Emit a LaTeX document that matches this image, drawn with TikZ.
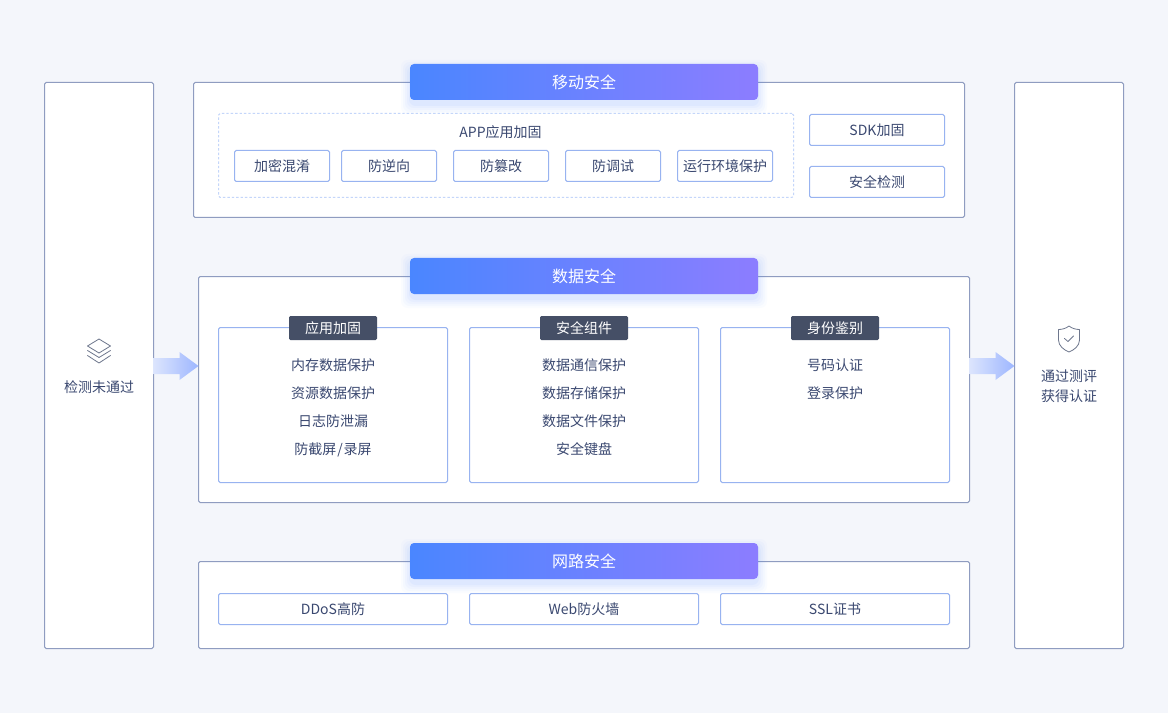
\documentclass[tikz,border=0pt]{standalone}
\usepackage{fontspec}
\setmainfont{Noto Sans CJK SC}[Scale=1]
\usetikzlibrary{calc}
\definecolor{bgc}{HTML}{F4F6FB}
\definecolor{outerc}{HTML}{8F9CC0}
\definecolor{innerc}{HTML}{98B3F0}
\definecolor{dashc}{HTML}{C4D6FA}
\definecolor{txtc}{HTML}{3A4870}
\definecolor{tagc}{HTML}{454F66}
\definecolor{gradl}{HTML}{4A86FF}
\definecolor{gradr}{HTML}{8C7DFF}
\definecolor{arrl}{HTML}{DCE5FD}
\definecolor{arrr}{HTML}{9DB6FF}
\definecolor{iconc}{HTML}{6E778D}
\tikzset{
  x=0.75pt,y=-0.75pt,
  every node/.style={inner sep=0pt,outer sep=0pt,font=\fontsize{10.5pt}{15pt}\selectfont,text=txtc,align=center},
  outerbox/.style={draw=outerc,line width=0.75pt,fill=white,rounded corners=1.2pt},
  innerbox/.style={draw=innerc,line width=0.75pt,fill=white,rounded corners=1.2pt},
  dashbox/.style={draw=dashc,line width=0.75pt,dash pattern=on 1.8pt off 1.5pt,rounded corners=1.2pt},
  titlebox/.style={rounded corners=3pt,left color=gradl,right color=gradr,text=white,font=\fontsize{12pt}{15pt}\selectfont},
  tagbox/.style={fill=tagc,rounded corners=1pt,text=white},
  plain/.style={},
  iconline/.style={draw=iconc,line width=0.6pt,line join=round,line cap=round},
}
\newcommand{\bx}[7][]{\node[#6,minimum width={(#4-#2)*0.75pt},minimum height={(#5-#3)*0.75pt},#1] (#7) at ({(#2+#4)/2},{(#3+#5)/2})}
\newcommand{\titlebar}[4]{%
  \foreach \k/\o in {9/0.025,7/0.03,5/0.035,3/0.04,1/0.05}{
    \fill[gradl,opacity=\o,rounded corners=5pt] ({410-\k},{#2-\k+5}) rectangle ({758+\k},{#3+\k+5});
  }
  \bx{410}{#2}{758}{#3}{titlebox}{#1}{#4};}
\newcommand{\bigarrow}[2]{%
  \shade[left color=arrl,right color=arrr]
    ($(#1)+(0,-8)$) -- ($(#2)+(-19,-8)$) -- ($(#2)+(-19,-14)$) -- (#2) -- ($(#2)+(-19,14)$) -- ($(#2)+(-19,8)$) -- ($(#1)+(0,8)$) -- cycle;}
\begin{document}
\begin{tikzpicture}
\useasboundingbox (0,0) rectangle (1168,713);
\fill[bgc] (0,0) rectangle (1168,713);

% side columns
\bx{44.5}{82.5}{153.5}{648.5}{outerbox}{leftcol}{};
\bx{1014.5}{82.5}{1123.5}{648.5}{outerbox}{rightcol}{};
\node (lefttxt) at (99,387) {检测未通过};
\node (righttxt) at (1069,386.5) [text width=70pt] {通过测评\\获得认证};

% stack icon
\draw[iconline] (99,339) -- (110.5,346) -- (99,353) -- (87.5,346) -- cycle;
\draw[iconline] (87.5,350.5) -- (99,357.5) -- (110.5,350.5);
\draw[iconline] (87.5,355.5) -- (99,363) -- (110.5,355.5);
% shield icon
\draw[iconline] (1069,326) .. controls (1072,328.5) and (1076,329.5) .. (1079.5,329.5)
  -- (1079.5,340) .. controls (1079.5,346) and (1074,350) .. (1069,352)
  .. controls (1064,350) and (1058.5,346) .. (1058.5,340) -- (1058.5,329.5)
  .. controls (1062,329.5) and (1066,328.5) .. (1069,326) -- cycle;
\draw[iconline] (1064.5,338.5) -- (1068,341.5) -- (1073.5,336);

% mobile
\bx{193.5}{82.5}{964.5}{217.5}{outerbox}{mobile}{};
\titlebar{mobiletitle}{64}{100}{移动安全}
\bx{218.5}{113.5}{793.5}{197.5}{dashbox}{appgroup}{};
\node (applabel) at (500.5,132.5) {APP应用加固};
\bx{234.5}{150.5}{329.5}{181.5}{innerbox}{m1}{加密混淆};
\bx{341.5}{150.5}{436.5}{181.5}{innerbox}{m2}{防逆向};
\bx{453.5}{150.5}{548.5}{181.5}{innerbox}{m3}{防篡改};
\bx{565.5}{150.5}{660.5}{181.5}{innerbox}{m4}{防调试};
\bx{677.5}{150.5}{772.5}{181.5}{innerbox}{m5}{运行环境保护};
\bx{809.5}{114.5}{944.5}{145.5}{innerbox}{sdk}{SDK加固};
\bx{809.5}{166.5}{944.5}{197.5}{innerbox}{det}{安全检测};

% data
\bx{198.5}{276.5}{969.5}{502.5}{outerbox}{data}{};
\titlebar{datatitle}{258}{294}{数据安全}
\bx{218.5}{327.5}{447.5}{482.5}{innerbox}{c1}{};
\bx{469.5}{327.5}{698.5}{482.5}{innerbox}{c2}{};
\bx{720.5}{327.5}{949.5}{482.5}{innerbox}{c3}{};
\bx{289}{316}{377}{340}{tagbox}{t1}{应用加固};
\bx{540}{316}{628}{340}{tagbox}{t2}{安全组件};
\bx{791}{316}{879}{340}{tagbox}{t3}{身份鉴别};
\node (a1) at (333,365) {内存数据保护};
\node (a2) at (333,393) {资源数据保护};
\node (a3) at (333,421) {日志防泄漏};
\node (a4) at (333,449.5) {防截屏\kern0.6pt/\kern0.6pt录屏};
\node (b1) at (584,365) {数据通信保护};
\node (b2) at (584,393) {数据存储保护};
\node (b3) at (584,421) {数据文件保护};
\node (b4) at (584,449) {安全键盘};
\node (d1) at (835,365) {号码认证};
\node (d2) at (835,393) {登录保护};

% network
\bx{198.5}{561.5}{969.5}{648.5}{outerbox}{net}{};
\titlebar{nettitle}{543}{579}{网路安全}
\bx{218.5}{593.5}{447.5}{624.5}{innerbox}{n1}{DDoS高防};
\bx{469.5}{593.5}{698.5}{624.5}{innerbox}{n2}{Web防火墙};
\bx{720.5}{593.5}{949.5}{624.5}{innerbox}{n3}{SSL证书};

% arrows
\coordinate (as1) at (leftcol.east |- 0,366);
\coordinate (ae1) at (data.west |- 0,366);
\coordinate (as2) at (data.east |- 0,366);
\coordinate (ae2) at (rightcol.west |- 0,366);
\bigarrow{as1}{ae1}
\bigarrow{as2}{ae2}
\end{tikzpicture}
\end{document}
